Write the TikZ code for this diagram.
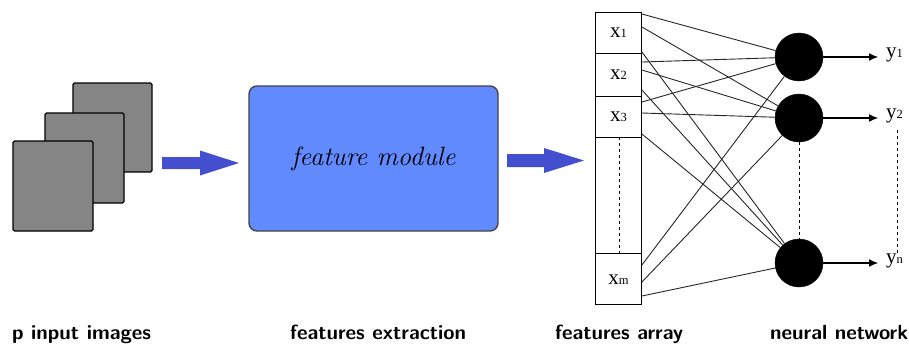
\documentclass[tikz,border=0pt]{standalone}
\usepackage{fontspec}
\newfontfamily\tms{Liberation Serif}
\usetikzlibrary{arrows.meta,calc}
\definecolor{imggray}{HTML}{858585}
\definecolor{modblue}{HTML}{618AFF}
\definecolor{arrblue}{HTML}{444FCF}
\definecolor{modedge}{HTML}{444444}
\tikzset{
  img/.style={draw=black,line width=1.4pt,fill=imggray,rounded corners=1.5pt},
  cell/.style={draw=black,line width=0.9pt,inner sep=0pt,minimum width=46pt,anchor=north west},
  neuron/.style={circle,fill=black,draw=black,minimum size=48pt,inner sep=0pt},
  link/.style={line width=0.9pt,draw=black!85},
  outarrow/.style={line width=1.1pt,-{Latex[length=9pt,width=8pt]}},
  caption/.style={font=\sffamily\bfseries\fontsize{20.5}{20.5}\selectfont,anchor=base west,inner sep=0pt},
  xlab/.style={font=\tms\fontsize{21}{21}\selectfont,inner sep=0pt},
  fatarrow/.style={fill=arrblue,draw=none}
}
\newcommand{\sub}[1]{{\fontsize{12.5}{12.5}\selectfont #1}}
\begin{document}
\begin{tikzpicture}[x=1pt,y=-1pt]
\useasboundingbox (0,0) rectangle (909,351);

% stack of input images
\draw[img] (73,83) rectangle (152,172);
\draw[img] (45,113) rectangle (124,203);
\draw[img] (13,141) rectangle (93,231);
\coordinate (imgs) at (162,163);

% feature module
\node[draw=modedge,line width=1.4pt,fill=modblue,rounded corners=8pt,
      minimum width=249pt,minimum height=145pt,inner sep=0pt]
  (mod) at (373.5,158.5) {\itshape\fontsize{26.5}{26.5}\selectfont feature module};

% fat arrows between stages
\fill[fatarrow] (imgs) ++(0,-6) -- ++(38,0) -- ++(0,-6.5) -- ++(39,12.5)
  -- ++(-39,12.5) -- ++(0,-6.5) -- ++(-38,0) -- cycle;
\coordinate (modout) at (507,160.5);
\fill[fatarrow] (modout) ++(0,-6.5) -- ++(37,0) -- ++(0,-6) -- ++(40,12.5)
  -- ++(-40,12.5) -- ++(0,-6) -- ++(-37,0) -- cycle;

% features array
\node[cell,minimum height=41pt] (c1) at (595,12) {};
\node[cell,minimum height=43pt] (c2) at (595,53) {};
\node[cell,minimum height=41pt] (c3) at (595,96) {};
\node[cell,minimum height=116pt] (cd) at (595,137) {};
\node[cell,minimum height=51pt] (cm) at (595,253) {};
\node[xlab] at (c1) {x\sub{1}};
\node[xlab] at (c2) {x\sub{2}};
\node[xlab] at (c3) {x\sub{3}};
\node[xlab] at ([yshift=-1pt]cm) {x\sub{m}};
\draw[dashed,line width=0.8pt] (619,137) -- (619,253);

% neurons
\node[neuron] (n1) at (799,57) {};
\node[neuron] (n2) at (799,118) {};
\node[neuron] (n3) at (799,263) {};
\draw[dashed,line width=0.8pt] (n2.south) -- (n3.north);

% weights
\draw[link] ([yshift=-2pt]c1.north east) -- (n1);
\draw[link] ([yshift=-15pt]c1.north east) -- (n2);
\draw[link] ([yshift=-40pt]c1.north east) -- (n3);
\draw[link] ([yshift=-9pt]c2.north east) -- (n1);
\draw[link] ([yshift=-17pt]c2.north east) -- (n2);
\draw[link] ([yshift=-37pt]c2.north east) -- (n3);
\draw[link] ([yshift=-6pt]c3.north east) -- (n1);
\draw[link] ([yshift=-17pt]c3.north east) -- (n2);
\draw[link] ([yshift=-38pt]c3.north east) -- (n3);
\draw[link] ([yshift=-12pt]cm.north east) -- (n1);
\draw[link] ([yshift=-29pt]cm.north east) -- (n2);
\draw[link] ([yshift=-43pt]cm.north east) -- (n3);

% outputs
\coordinate (o1) at (878,57);
\coordinate (o2) at (878,118);
\coordinate (o3) at (878,263);
\draw[outarrow] (n1) -- (o1);
\draw[outarrow] (n2) -- (o2);
\draw[outarrow] (n3) -- (o3);
\node[xlab,anchor=west] (y1) at (886,55) {y\sub{1}};
\node[xlab,anchor=west] (y2) at (886,116) {y\sub{2}};
\node[xlab,anchor=west] (yn) at (886,261) {y\sub{n}};
\draw[dashed,line width=0.8pt] (897,130) -- (897,253);

% stage captions
\node[caption] at (12,339) {p input images};
\node[caption] at (290,339) {features extraction};
\node[caption] at (555,339) {features array};
\node[caption] at (770,339) {neural network};
\end{tikzpicture}
\end{document}
